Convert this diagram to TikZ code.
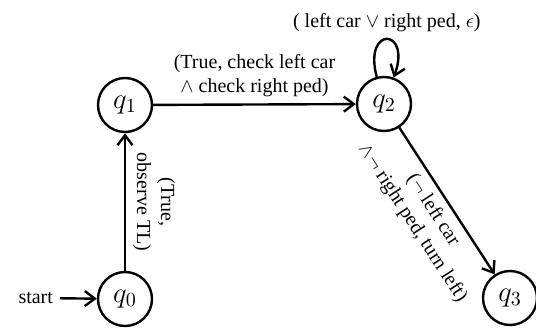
\documentclass[tikz,border=0pt]{standalone}
\usepackage{fontspec}
\setmainfont{Liberation Serif}
\usetikzlibrary{arrows.meta}
\begin{document}
\begin{tikzpicture}[x=0.5pt,y=-0.5pt,
  state/.style={circle,draw,line width=1.2pt,minimum size=27pt,inner sep=0pt,font=\Large},
  trans/.style={line width=1.2pt,-{Straight Barb[length=5pt,width=7.5pt,line width=1.2pt]}},
  lbl/.style={font=\normalsize,align=center}]
\useasboundingbox (0,0) rectangle (536,327);
% states
\node[state] (q0) at (125,299) {$q_0$};
\node[state] (q1) at (125,105) {$q_1$};
\node[state] (q2) at (384,104) {$q_2$};
\node[state] (q3) at (510,298) {$q_3$};
\node[lbl,anchor=east] (start) at (60,298) {start};
% transitions
\draw[trans] (start) -- (q0);
\draw[trans] (q0) -- node[lbl,rotate=-90,anchor=south]{(True,\\observe TL)} (q1);
\draw[trans] (q1) -- node[lbl,above]{(True, check left car\\$\wedge$ check right ped)} (q2);
\draw[trans] (q2) to[out=105,in=70,looseness=8] node[lbl,above]{( left car $\vee$ right ped, $\epsilon$)} (q2);
\draw[trans] (q2) -- node[lbl,sloped,below]{($\neg$ left car\\$\wedge\neg$ right ped, turn left)} (q3);
\end{tikzpicture}
\end{document}
